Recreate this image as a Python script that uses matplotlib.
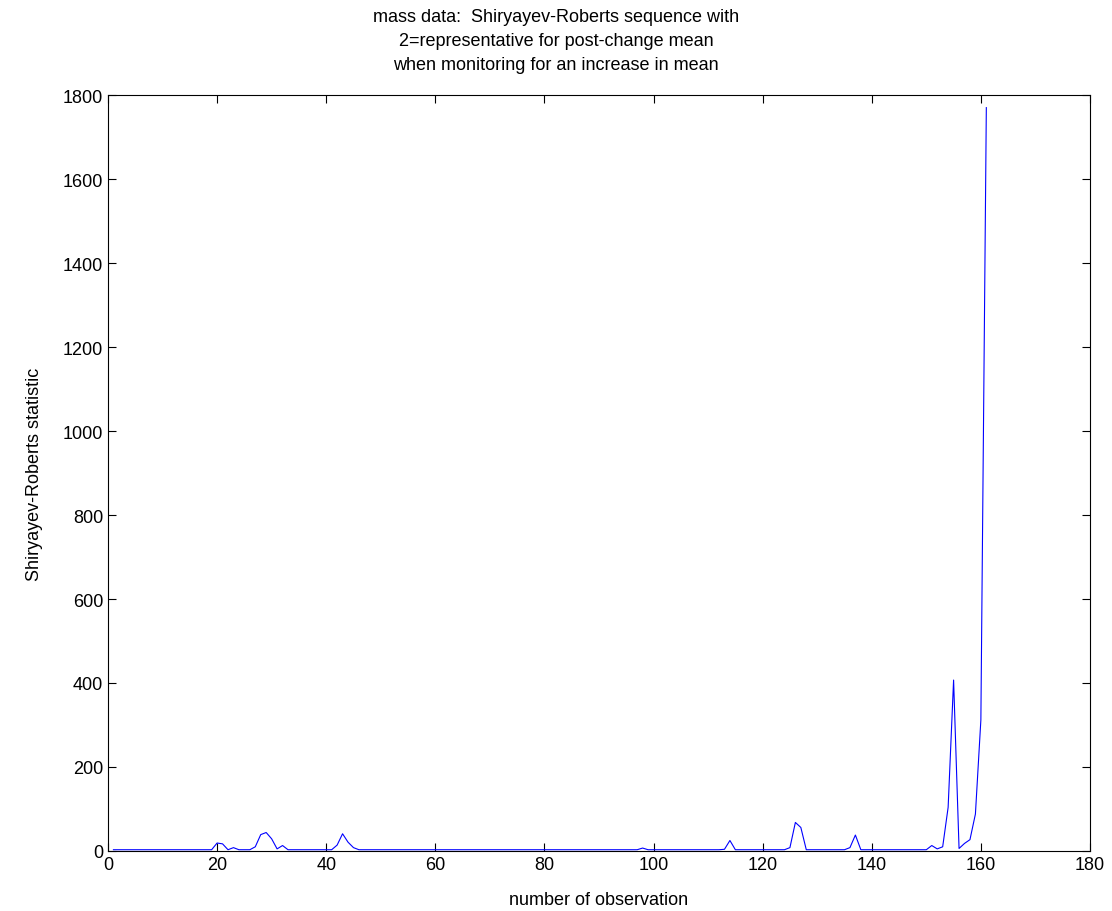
import matplotlib
matplotlib.use("Agg")
import matplotlib.pyplot as plt
import numpy as np

plt.rcParams['font.family'] = ['Liberation Sans', 'DejaVu Sans']

# Shiryayev-Roberts statistic for observations 1..161
observation = list(range(1, 162))
sr_stat = [
    3, 3, 3, 3, 3, 3, 3, 3, 3, 3, 3, 3, 3, 3, 3, 3, 3, 3, 3, 19,    # 1-20
    17, 3, 8, 3, 3, 3, 10, 39, 44, 29, 5, 13, 3, 3, 3, 3, 3, 3, 3, 3,  # 21-40
    3, 14, 41, 21, 8, 3, 3, 3, 3, 3, 3, 3, 3, 3, 3, 3, 3, 3, 3, 3,   # 41-60
    3, 3, 3, 3, 3, 3, 3, 3, 3, 3, 3, 3, 3, 3, 3, 3, 3, 3, 3, 3,      # 61-80
    3, 3, 3, 3, 3, 3, 3, 3, 3, 3, 3, 3, 3, 3, 3, 3, 3, 7, 3, 3,      # 81-100
    3, 3, 3, 3, 3, 3, 3, 3, 3, 3, 3, 3, 4, 25, 3, 3, 3, 3, 3, 3,     # 101-120
    3, 3, 3, 3, 8, 68, 56, 3, 3, 3, 3, 3, 3, 3, 3, 8, 38, 3, 3, 3,   # 121-140
    3, 3, 3, 3, 3, 3, 3, 3, 3, 3, 13, 5, 10, 104, 407, 6, 18, 27, 88, 312,  # 141-160
    1770,                                                            # 161
]

xticks = np.arange(0, 181, 20)
yticks = np.arange(0, 1801, 200)

title_lines = [
    "mass data:  Shiryayev-Roberts sequence with",
    "2=representative for post-change mean",
    "when monitoring for an increase in mean",
]

fig = plt.figure(figsize=(11.12, 9.12), dpi=100)
ax = fig.add_axes([0.0971, 0.0658, 0.8831, 0.8289])

ax.plot(observation, sr_stat, color=(0, 0, 1), linewidth=0.8)

ax.set_xlim(0, 180)
ax.set_ylim(0, 1800)
ax.set_xticks(xticks)
ax.set_yticks(yticks)
ax.tick_params(direction='in', top=True, right=True, length=6, width=0.8,
               labelsize=13)
for s in ax.spines.values():
    s.set_linewidth(0.8)

ax.set_xlabel("number of observation", fontsize=13, labelpad=13)
ax.set_ylabel("Shiryayev-Roberts statistic", fontsize=13, labelpad=14)

# three-line title, one text per line
for i, line in enumerate(title_lines):
    fig.text(0.5, 1 - (18 + 24 * i) / 912, line, ha='center', va='center',
             fontsize=13)

fig.savefig("out.png", dpi=100, facecolor='white')
